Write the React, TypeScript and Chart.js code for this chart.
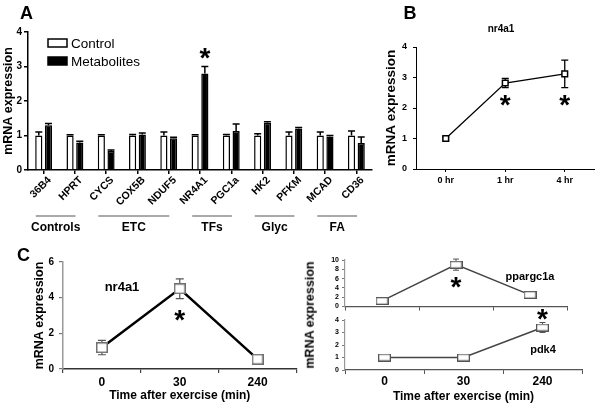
import React, { useEffect, useRef } from 'react';
import { Chart, registerables } from 'chart.js';

Chart.register(...registerables);

const FONT = "'Liberation Sans', Arial, Helvetica, sans-serif";
Chart.defaults.font.family = FONT;

// ---------- Panel A data ----------
const genes = ['36B4', 'HPRT', 'CYCS', 'COX5B', 'NDUF5', 'NR4A1', 'PGC1a', 'HK2', 'PFKM', 'MCAD', 'CD36'];
const controlValues = [1.0, 1.0, 1.0, 1.0, 1.0, 1.0, 1.0, 1.0, 1.0, 1.0, 1.0];
const controlErrors = [0.1, 0.02, 0.02, 0.03, 0.1, 0.02, 0.03, 0.05, 0.1, 0.1, 0.13];
const metaboliteValues = [1.3, 0.8, 0.55, 1.03, 0.92, 2.8, 1.13, 1.37, 1.2, 0.97, 0.78];
const metaboliteErrors = [0.05, 0.03, 0.03, 0.04, 0.03, 0.2, 0.2, 0.03, 0.03, 0.03, 0.18];
const groupNames = ['Controls', 'ETC', 'TFs', 'Glyc', 'FA'];
const groupStart = [0, 2, 5, 7, 9];
const groupEnd = [1, 4, 6, 8, 10];
const panelAStars = [5];

// ---------- Panel B data ----------
const timeB = ['0 hr', '1 hr', '4 hr'];
const nr4a1B = [1.0, 2.82, 3.12];
const nr4a1BErr = [0.05, 0.15, 0.45];
const panelBStars = [1, 2];

// ---------- Panel C data ----------
const timeC = ['0', '30', '240'];
const nr4a1C = [1.2, 4.5, 0.55];
const nr4a1CErr = [0.4, 0.55, 0.05];
const nr4a1CStars = [1];
const ppargc1a = [1.2, 9.0, 2.5];
const ppargc1aErr = [0.2, 1.2, 0.2];
const ppargc1aStars = [1];
const pdk4 = [1.0, 1.0, 3.4];
const pdk4Err = [0.1, 0.05, 0.4];
const pdk4Stars = [2];

// ---------- helpers ----------
function makeMarker(w: number, h: number, stroke: string, lw: number) {
  const c = document.createElement('canvas');
  c.width = w;
  c.height = h;
  const ctx = c.getContext('2d')!;
  ctx.fillStyle = '#fff';
  ctx.fillRect(0, 0, w, h);
  ctx.strokeStyle = stroke;
  ctx.lineWidth = lw;
  ctx.strokeRect(lw / 2, lw / 2, w - lw, h - lw);
  return c;
}

function makeErrorBars(upOnly: boolean, cap: number, color: string, width: number) {
  const draw = (chart: any) => {
    const ctx = chart.ctx;
    ctx.save();
    ctx.strokeStyle = color;
    ctx.lineWidth = width;
    chart.data.datasets.forEach((ds: any, di: number) => {
      if (!ds.errors) return;
      const meta = chart.getDatasetMeta(di);
      const ys = chart.scales[meta.yAxisID];
      meta.data.forEach((el: any, i: number) => {
        const v = ds.data[i];
        const e = ds.errors[i];
        const x = el.x;
        const yTop = ys.getPixelForValue(v + e);
        const yBot = upOnly ? el.y : ys.getPixelForValue(v - e);
        ctx.beginPath();
        ctx.moveTo(x, yBot);
        ctx.lineTo(x, yTop);
        ctx.moveTo(x - cap / 2, yTop);
        ctx.lineTo(x + cap / 2, yTop);
        if (!upOnly) {
          ctx.moveTo(x - cap / 2, yBot);
          ctx.lineTo(x + cap / 2, yBot);
        }
        ctx.stroke();
      });
    });
    ctx.restore();
  };
  return upOnly
    ? { id: 'errorBars', afterDatasetsDraw: draw }
    : { id: 'errorBars', beforeDatasetsDraw: draw };
}

function makeStars(marks: { dataset: number; index: number; above: boolean }[], size: number, gap: number) {
  return {
    id: 'stars',
    afterDatasetsDraw(chart: any) {
      const ctx = chart.ctx;
      ctx.save();
      ctx.fillStyle = '#000';
      ctx.font = `bold ${size}px ${FONT}`;
      ctx.textAlign = 'center';
      ctx.textBaseline = 'alphabetic';
      marks.forEach((m) => {
        const ds = chart.data.datasets[m.dataset];
        const meta = chart.getDatasetMeta(m.dataset);
        const ys = chart.scales[meta.yAxisID];
        const el = meta.data[m.index];
        const v = ds.data[m.index];
        const e = ds.errors ? ds.errors[m.index] : 0;
        const cy = m.above ? ys.getPixelForValue(v + e) - gap : ys.getPixelForValue(v - e) + gap;
        ctx.fillText('*', el.x, cy + 0.57 * size);
      });
      ctx.restore();
    },
  };
}

const boxLegend = {
  id: 'boxLegend',
  afterDraw(chart: any) {
    const { ctx, chartArea } = chart;
    const x0 = chartArea.left + 20;
    const y0 = chartArea.top + 11;
    ctx.save();
    chart.data.datasets.forEach((ds: any, i: number) => {
      const y = y0 + i * 18;
      ctx.fillStyle = ds.backgroundColor;
      ctx.fillRect(x0, y - 4, 19, 8);
      ctx.strokeStyle = ds.borderColor;
      ctx.lineWidth = 1.5;
      ctx.strokeRect(x0, y - 4, 19, 8);
      ctx.fillStyle = '#000';
      ctx.font = `13.5px ${FONT}`;
      ctx.textBaseline = 'middle';
      ctx.textAlign = 'left';
      ctx.fillText(ds.label, x0 + 23, y + 1);
    });
    ctx.restore();
  },
};

const groupPlugin = {
  id: 'groups',
  afterDraw(chart: any) {
    const { ctx } = chart;
    const xs = chart.scales.x;
    const w = xs.getPixelForValue(1) - xs.getPixelForValue(0);
    const yLine = chart.chartArea.bottom + 46;
    ctx.save();
    groupNames.forEach((name, g) => {
      const x1 = xs.getPixelForValue(groupStart[g]) - 0.25 * w;
      const x2 = xs.getPixelForValue(groupEnd[g]) + 0.02 * w;
      ctx.strokeStyle = '#8c8c8c';
      ctx.lineWidth = 1.5;
      ctx.beginPath();
      ctx.moveTo(x1, yLine);
      ctx.lineTo(x2, yLine);
      ctx.stroke();
      ctx.fillStyle = '#000';
      ctx.font = `bold 12px ${FONT}`;
      ctx.textAlign = 'center';
      ctx.textBaseline = 'middle';
      ctx.fillText(name, (x1 + x2) / 2, yLine + 12);
    });
    ctx.restore();
  },
};

type Box = { left: number; top: number; width: number; height: number };

function ChartCanvas({ box, make }: { box: Box; make: () => any }) {
  const ref = useRef<HTMLCanvasElement | null>(null);
  useEffect(() => {
    if (!ref.current) return;
    const chart = new Chart(ref.current, make());
    return () => chart.destroy();
  }, []);
  return (
    <canvas
      ref={ref}
      width={box.width}
      height={box.height}
      style={{ position: 'absolute', left: box.left, top: box.top, width: box.width, height: box.height }}
    />
  );
}

const noPlug = { legend: { display: false }, tooltip: { enabled: false }, title: { display: false } };

function configA() {
  return {
    type: 'bar',
    data: {
      labels: genes,
      datasets: [
        { label: 'Control', data: controlValues, errors: controlErrors, backgroundColor: '#ffffff', borderColor: '#000000', borderWidth: 1.5 },
        { label: 'Metabolites', data: metaboliteValues, errors: metaboliteErrors, backgroundColor: '#000000', borderColor: '#000000', borderWidth: 1.5 },
      ],
    },
    options: {
      animation: false,
      responsive: false,
      layout: { padding: { left: 0, top: 32, right: 8, bottom: 0 } },
      datasets: { bar: { categoryPercentage: 0.62, barPercentage: 0.74 } },
      plugins: noPlug,
      scales: {
        x: {
          offset: true,
          grid: { offset: false, drawOnChartArea: false, tickLength: 4, color: '#000', lineWidth: 1.5 },
          border: { color: '#000', width: 1.5 },
          ticks: { minRotation: 45, maxRotation: 45, autoSkip: false, padding: 0, labelOffset: 6, color: '#000', font: { size: 10.5, weight: 'bold' } },
          afterFit: (s: any) => { s.height = 65; },
        },
        y: {
          min: 0,
          max: 4,
          ticks: { stepSize: 1, padding: 2, color: '#000', font: { size: 10, weight: 'bold' } },
          grid: { drawOnChartArea: false, tickLength: 4, color: '#000', lineWidth: 1.5 },
          border: { color: '#000', width: 1.5 },
          title: { display: true, text: 'mRNA expression', color: '#000', font: { size: 12.5, weight: 'bold' }, padding: { top: 1, bottom: 0 } },
          afterFit: (s: any) => { s.width = 28; },
        },
      },
    },
    plugins: [
      makeErrorBars(true, 7, '#000', 1.5),
      makeStars(panelAStars.map((i) => ({ dataset: 1, index: i, above: true })), 28, 15),
      groupPlugin,
      boxLegend,
    ],
  };
}

function configB() {
  return {
    type: 'line',
    data: {
      labels: timeB,
      datasets: [
        {
          label: 'nr4a1',
          data: nr4a1B,
          errors: nr4a1BErr,
          borderColor: '#000',
          borderWidth: 1.3,
          pointStyle: 'rect',
          pointRadius: 4,
          pointBackgroundColor: '#fff',
          pointBorderColor: '#000',
          pointBorderWidth: 1.5,
        },
      ],
    },
    options: {
      animation: false,
      responsive: false,
      layout: { padding: { left: 23, top: 47, right: 1, bottom: 0 } },
      plugins: noPlug,
      scales: {
        x: {
          offset: true,
          grid: { offset: false, drawOnChartArea: false, tickLength: 3, color: '#000', lineWidth: 1 },
          border: { color: '#000', width: 1 },
          ticks: { padding: 3, color: '#000', font: { size: 9, weight: 'bold' } },
          afterFit: (s: any) => { s.height = 31; },
        },
        y: {
          min: 0,
          max: 4,
          ticks: { stepSize: 1, padding: 6, color: '#000', font: { size: 9, weight: 'bold' } },
          grid: { drawOnChartArea: false, tickLength: 3, color: '#000', lineWidth: 1 },
          border: { color: '#000', width: 1 },
          title: { display: true, text: 'mRNA expression', color: '#000', font: { size: 13.5, weight: 'bold' }, padding: { top: 0, bottom: 0 } },
          afterFit: (s: any) => { s.width = 33; },
        },
      },
    },
    plugins: [
      makeErrorBars(false, 7, '#000', 1.3),
      makeStars(panelBStars.map((i) => ({ dataset: 0, index: i, above: false })), 28, 10),
    ],
  };
}

function configCLeft() {
  return {
    type: 'line',
    data: {
      labels: timeC,
      datasets: [
        {
          label: 'nr4a1',
          data: nr4a1C,
          errors: nr4a1CErr,
          borderColor: '#000',
          borderWidth: 2.5,
          pointStyle: makeMarker(12, 11, '#6e6e6e', 1.5),
          pointRadius: 6,
        },
      ],
    },
    options: {
      animation: false,
      responsive: false,
      layout: { padding: { left: 32, top: 12, right: 8, bottom: 0 } },
      plugins: noPlug,
      scales: {
        x: {
          offset: true,
          grid: { offset: true, drawOnChartArea: false, tickLength: 4, color: '#444', lineWidth: 1.2 },
          border: { color: '#333', width: 1.5 },
          ticks: { padding: 2, color: '#000', font: { size: 12, weight: 'bold' } },
          title: { display: true, text: 'Time after exercise (min)', color: '#000', font: { size: 12, weight: 'bold' }, padding: { top: 0, bottom: 2 } },
          afterFit: (s: any) => { s.height = 36; },
        },
        y: {
          min: 0,
          max: 6,
          ticks: { stepSize: 2, padding: 5, color: '#000', font: { size: 10, weight: 'bold' } },
          grid: { drawOnChartArea: false, tickLength: 4, color: '#777', lineWidth: 1.2 },
          border: { color: '#999', width: 1.5 },
          title: { display: true, text: 'mRNA expression', color: '#000', font: { size: 12.5, weight: 'bold' }, padding: { top: 0, bottom: 0 } },
          afterFit: (s: any) => { s.width = 31; },
        },
      },
    },
    plugins: [
      makeErrorBars(false, 8, '#555', 1.2),
      makeStars(nr4a1CStars.map((i) => ({ dataset: 0, index: i, above: false })), 28, 14),
    ],
  };
}

function configCRightTop() {
  return {
    type: 'line',
    data: {
      labels: timeC,
      datasets: [
        {
          label: 'ppargc1a',
          data: ppargc1a,
          errors: ppargc1aErr,
          borderColor: '#444',
          borderWidth: 1.5,
          pointStyle: makeMarker(13, 8, '#555', 1.3),
          pointRadius: 6,
        },
      ],
    },
    options: {
      animation: false,
      responsive: false,
      layout: { padding: { left: 30, top: 10, right: 33, bottom: 0 } },
      plugins: noPlug,
      scales: {
        x: {
          offset: true,
          grid: { offset: true, drawOnChartArea: false, tickLength: 4, color: '#555', lineWidth: 1 },
          border: { color: '#555', width: 1.2 },
          ticks: { display: false },
          afterFit: (s: any) => { s.height = 6; },
        },
        y: {
          min: 0,
          max: 10,
          ticks: { stepSize: 2, autoSkip: false, padding: 3, color: '#000', font: { size: 7, weight: 'bold' } },
          grid: { drawOnChartArea: false, tickLength: 3, color: '#777', lineWidth: 1 },
          border: { color: '#999', width: 1.2 },
          afterFit: (s: any) => { s.width = 15; },
        },
      },
    },
    plugins: [
      makeErrorBars(false, 6, '#555', 1),
      makeStars(ppargc1aStars.map((i) => ({ dataset: 0, index: i, above: false })), 28, 10),
    ],
  };
}

function configCRightBottom() {
  return {
    type: 'line',
    data: {
      labels: timeC,
      datasets: [
        {
          label: 'pdk4',
          data: pdk4,
          errors: pdk4Err,
          borderColor: '#444',
          borderWidth: 1.5,
          pointStyle: makeMarker(13, 8, '#555', 1.3),
          pointRadius: 6,
        },
      ],
    },
    options: {
      animation: false,
      responsive: false,
      layout: { padding: { left: 30, top: 20, right: 18, bottom: 0 } },
      plugins: noPlug,
      scales: {
        x: {
          offset: true,
          grid: { offset: true, drawOnChartArea: false, tickLength: 4, color: '#555', lineWidth: 1 },
          border: { color: '#555', width: 1.2 },
          ticks: { padding: 0, color: '#000', font: { size: 12, weight: 'bold' } },
          title: { display: true, text: 'Time after exercise (min)', color: '#000', font: { size: 12, weight: 'bold' }, padding: { top: 0, bottom: 1 } },
          afterFit: (s: any) => { s.height = 35; },
        },
        y: {
          min: 0,
          max: 4,
          ticks: { stepSize: 1, autoSkip: false, padding: 3, color: '#000', font: { size: 7, weight: 'bold' } },
          grid: { drawOnChartArea: false, tickLength: 3, color: '#777', lineWidth: 1 },
          border: { color: '#999', width: 1.2 },
          afterFit: (s: any) => { s.width = 15; },
        },
      },
    },
    plugins: [
      makeErrorBars(false, 6, '#555', 1),
      makeStars(pdk4Stars.map((i) => ({ dataset: 0, index: i, above: true })), 28, 10),
    ],
  };
}

function Label({ x, y, size, text, rotate = false, weight = 'bold' }: { x: number; y: number; size: number; text: string; rotate?: boolean; weight?: string }) {
  return (
    <div
      style={{
        position: 'absolute',
        left: x,
        top: y,
        transform: `translate(-50%, -50%)${rotate ? ' rotate(-90deg)' : ''}`,
        fontFamily: FONT,
        fontWeight: weight as any,
        fontSize: size,
        lineHeight: 1,
        whiteSpace: 'nowrap',
        color: '#000',
      }}
    >
      {text}
    </div>
  );
}

export default function App() {
  return (
    <div style={{ position: 'relative', width: 600, height: 405, background: '#fff', overflow: 'hidden' }}>
      <style>{`body{margin:0;background:#fff}`}</style>
      <ChartCanvas box={{ left: 0, top: 0, width: 380, height: 235 }} make={configA} />
      <ChartCanvas box={{ left: 360, top: 0, width: 240, height: 200 }} make={configB} />
      <ChartCanvas box={{ left: 0, top: 250, width: 305, height: 155 }} make={configCLeft} />
      <ChartCanvas box={{ left: 300, top: 250, width: 300, height: 64 }} make={configCRightTop} />
      <ChartCanvas box={{ left: 300, top: 300, width: 300, height: 105 }} make={configCRightBottom} />
      <Label x={26.5} y={12.5} size={18} text="A" />
      <Label x={410} y={12.5} size={18} text="B" />
      <Label x={23.5} y={255} size={18} text="C" />
      <Label x={501} y={29} size={10} text="nr4a1" />
      <Label x={122} y={286} size={13} text="nr4a1" />
      <Label x={530} y={276} size={11} text="ppargc1a" />
      <Label x={543} y={349} size={11} text="pdk4" />
      <Label x={310} y={315} size={12.5} text="mRNA expression" rotate />
    </div>
  );
}
